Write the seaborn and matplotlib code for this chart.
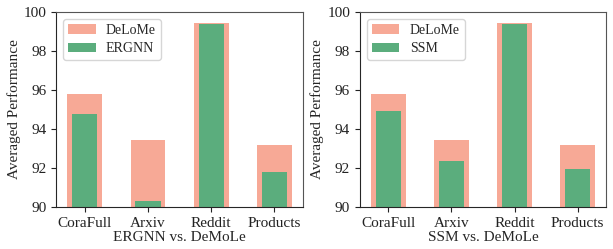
import matplotlib
matplotlib.use("Agg")
import matplotlib.pyplot as plt
import seaborn as sns

datasets = ["CoraFull", "Arxiv", "Reddit", "Products"]
delome = [95.8, 93.45, 99.44, 93.18]
ergnn = [94.78, 90.32, 99.38, 91.8]
ssm = [94.93, 92.37, 99.38, 91.96]

SALMON = "#F7A996"
GREEN = "#5BAD7D"

sns.set_style("ticks")
plt.rcParams["font.family"] = ["Liberation Serif", "DejaVu Serif"]
plt.rcParams["font.size"] = 11

fig = plt.figure(figsize=(6.13, 2.49), dpi=100)
ax1 = fig.add_axes([0.0914, 0.169, 0.403, 0.783])
ax2 = fig.add_axes([0.587, 0.169, 0.402, 0.783])

W_BIG, W_SMALL = 0.55, 0.4

for ax, other, name in [(ax1, ergnn, "ERGNN"), (ax2, ssm, "SSM")]:
    sns.barplot(x=datasets, y=delome, color=SALMON, width=W_BIG, saturation=1,
                linewidth=0, edgecolor="none", label="DeLoMe", ax=ax)
    sns.barplot(x=datasets, y=other, color=GREEN, width=W_SMALL, saturation=1,
                linewidth=0, edgecolor="none", label=name, ax=ax)
    ax.set_ylim(90, 100)
    pad = (len(datasets) - 1 + W_BIG) * 0.05
    ax.set_xlim(-W_BIG / 2 - pad, len(datasets) - 1 + W_BIG / 2 + pad)
    ax.set_yticks([90, 92, 94, 96, 98, 100])
    ax.set_ylabel("Averaged Performance", fontsize=11, labelpad=2)
    ax.set_xlabel(f"{name} vs. DeMoLe", fontsize=11, labelpad=1)
    ax.tick_params(labelsize=11, colors="#222222")
    for s in ["top", "right"]:
        ax.spines[s].set_visible(True)
        ax.spines[s].set_color("#555555")
    ax.legend(loc="upper left", fontsize=10, handlelength=2.0, handleheight=0.7,
              labelspacing=0.4, borderpad=0.35, handletextpad=0.75,
              borderaxespad=0.5)

fig.savefig("out.png", dpi=100)
